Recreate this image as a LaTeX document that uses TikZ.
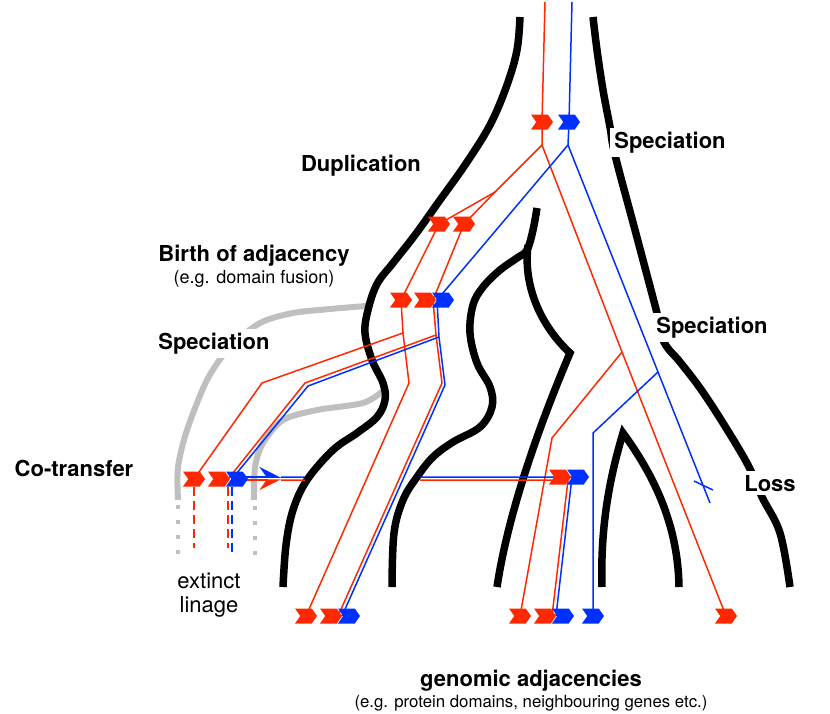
\documentclass[tikz,border=0pt]{standalone}
\usepackage{fontspec}
\setmainfont{TeX Gyre Heros}
\usepackage{xcolor}
\usetikzlibrary{positioning}
\usetikzlibrary{arrows.meta}
\usetikzlibrary{shapes.symbols}
\definecolor{adjred}{RGB}{255,40,0}
\definecolor{adjblue}{RGB}{0,48,255}
\tikzset{chev/.style={signal, signal to=east, signal from=west, signal pointer angle=110,
minimum width=22pt, minimum height=15pt, inner sep=0pt, outer sep=0pt, draw=none},
redchev/.style={chev, fill=adjred}, bluechev/.style={chev, fill=adjblue},
event/.style={font=\fontsize{22}{26}\selectfont\bfseries, fill=white, inner sep=4pt, anchor=base}}

\begin{document}
\begin{tikzpicture}[x=1pt, y=-1pt, wall/.style={line width=7.5pt}, ghost/.style={line width=6pt, black!25},
	redline/.style={adjred, line width=1.5pt}, blueline/.style={adjblue, line width=1.5pt},
	lost/.style={dash pattern=on 9pt off 5pt}, dots/.style={ghost, line width=4pt, dash pattern=on 4pt off 11pt},
	note/.style={font=\fontsize{18}{22}\selectfont, inner sep=0pt, anchor=base}]
\useasboundingbox (0,0) rectangle (830,713);

\draw[ghost] plot[smooth] coordinates {(366,306) (330,309) (293,313) (260,323) (230,347) (207,380) (187,430) (178,467) (178,500)};
\draw[ghost] plot[smooth] coordinates {(383,391) (363,403) (317,410) (283,420) (263,443) (255,467) (254,500)};
\coordinate (g1a) at (178,505); \coordinate (g1b) at (178,556);
\coordinate (g2a) at (255,506); \coordinate (g2b) at (255,557);
\draw[dots] (g1a) -- (g1b);
\draw[dots] (g2a) -- (g2b);

\draw[wall] plot[smooth, tension=0.6] coordinates {(520,17) (517,50) (507,85) (490,125) (465,165) (440,200) (415,235) (393,263) (377,284) (368,310) (365,333) (372,360) (383,383) (385,400) (377,417) (357,433) (333,450) (307,480) (293,510) (286,545) (283,587)};
\draw[wall] plot[smooth, tension=0.6] coordinates {(537,208) (533,230) (527,250) (517,258) (500,270) (483,287) (473,305) (470,333) (477,363) (490,387) (492,407) (480,427) (453,442) (433,457) (417,477) (403,500) (394,533) (392,587)};
\draw[wall] (528,245) .. controls (523,285) and (540,325) .. (570,353) .. controls (550,400) and (510,500) .. (497,587);
\draw[wall] (602,587) .. controls (600,520) and (612,470) .. (623,433) .. controls (650,470) and (678,520) .. (679,587);
\draw[wall] plot[smooth, tension=0.6] coordinates {(593,17) (597,50) (603,90) (610,127) (615,155) (635,230) (657,313) (664,342) (680,362) (700,388) (723,423) (748,465) (762,497) (780,533) (790,587)};

\coordinate (rin) at (545,2); \coordinate (bin) at (572,2);
\coordinate (rt) at (542,122); \coordinate (bt) at (569,122);
\coordinate (rs) at (542,145); \coordinate (bs) at (568,145);
\coordinate (rk) at (495,192);
\coordinate (ru1) at (439,224); \coordinate (ru2) at (464,224);
\coordinate (rb1) at (401,300); \coordinate (rb2) at (425,300); \coordinate (bb) at (443,300);
\coordinate (jr) at (433,300); \coordinate (jb) at (437,300);
\coordinate (p1) at (403,333); \coordinate (q1) at (409,383); \coordinate (s1) at (262,383);
\coordinate (p2) at (436,335); \coordinate (q2) at (442,383); \coordinate (s2) at (305,383);
\coordinate (p3) at (439,337); \coordinate (q3) at (445,385); \coordinate (s3) at (308,386);
\coordinate (rc1) at (194,479); \coordinate (rc2) at (219,479); \coordinate (bc) at (237,479);
\coordinate (kr) at (228,479); \coordinate (kb) at (232,479);
\coordinate (re1) at (306,616); \coordinate (re2) at (331,616); \coordinate (be) at (349,616);
\coordinate (er) at (338,616); \coordinate (eb) at (342,616);
\coordinate (rd) at (560,477); \coordinate (bd) at (578,477);
\coordinate (dr) at (568,480); \coordinate (db) at (572,477);
\coordinate (rf1) at (520,616); \coordinate (rf2) at (545,616); \coordinate (bf) at (563,616);
\coordinate (fr) at (552,616); \coordinate (fb) at (556,616);
\coordinate (bg) at (593,616); \coordinate (rh) at (726,616);
\coordinate (rm) at (622,352); \coordinate (rn) at (552,438);
\coordinate (bm) at (658,372); \coordinate (bn) at (593,433);
\coordinate (bx) at (710,503); \coordinate (xa) at (694,481); \coordinate (xb) at (713,490);
\coordinate (tb0) at (246,477); \coordinate (tb) at (281,477); \coordinate (tb1) at (305,477); \coordinate (tb2) at (420,477);
\coordinate (tr0) at (246,480); \coordinate (tr) at (281,480); \coordinate (tr1) at (305,480); \coordinate (tr2) at (420,480);
\coordinate (x1a) at (194,487); \coordinate (x1b) at (194,548);
\coordinate (x2a) at (228,487); \coordinate (x2b) at (228,548);
\coordinate (x3a) at (232,487); \coordinate (x3b) at (232,552);

\draw[redline] (rin) -- (rt) -- (rs) -- (rk) -- (ru2) -- (jr) -- (p2) -- (q2) -- (er);
\draw[redline] (rk) -- (ru1) -- (rb1) -- (p1) -- (q1) -- (re1);
\draw[redline] (p1) -- (s1) -- (rc1);
\draw[redline] (p2) -- (s2) -- (kr);
\draw[redline] (rs) -- (rm) -- (rh);
\draw[redline] (rm) -- (rn) -- (rf1);
\draw[blueline] (bin) -- (bt) -- (bs) -- (jb) -- (p3) -- (q3) -- (eb);
\draw[blueline] (p3) -- (s3) -- (kb);
\draw[blueline] (bs) -- (bm) -- (bx);
\draw[blueline] (bm) -- (bn) -- (bg);
\draw[blueline] (xa) -- (xb);
\draw[redline, lost] (x1a) -- (x1b);
\draw[redline, lost] (x2a) -- (x2b);
\draw[blueline, lost] (x3a) -- (x3b);

\draw[blueline, -{Stealth[harpoon, length=20pt, width=20pt, inset=7pt]}] (tb0) -- (tb);
\draw[redline, -{Stealth[harpoon, swap, length=20pt, width=20pt, inset=7pt]}] (tr0) -- (tr);
\draw[blueline] (tb) -- (tb1) (tb2) -- (db) -- (fb);
\draw[redline] (tr) -- (tr1) (tr2) -- (dr) -- (fr);

\node[bluechev] (Bt) at (bt) {}; \node[bluechev] (Bb) at (bb) {}; \node[bluechev] (Bc) at (bc) {};
\node[bluechev] (Bd) at (bd) {}; \node[bluechev] (Be) at (be) {}; \node[bluechev] (Bf) at (bf) {};
\node[bluechev] (Bg) at (bg) {};
\node[redchev] (Rt) at (rt) {}; \node[redchev] (Ru1) at (ru1) {}; \node[redchev] (Ru2) at (ru2) {};
\node[redchev] (Rb1) at (rb1) {}; \node[redchev] (Rb2) at (rb2) {};
\node[redchev] (Rc1) at (rc1) {}; \node[redchev] (Rc2) at (rc2) {}; \node[redchev] (Rd) at (rd) {};
\node[redchev] (Re1) at (re1) {}; \node[redchev] (Re2) at (re2) {};
\node[redchev] (Rf1) at (rf1) {}; \node[redchev] (Rf2) at (rf2) {}; \node[redchev] (Rh) at (rh) {};

\node[event] (dup) at (361,171) {Duplication};
\node[event] (birth) at (254,261) {Birth of adjacency};
\node[note, below=0pt of birth] (birthnote) {(e.g. domain fusion)};
\node[event] (spec1) at (214,349) {Speciation};
\node[event] (cotr) at (74,476) {Co-transfer};
\node[event] (spec2) at (670,148) {Speciation};
\node[event] (spec3) at (712,333) {Speciation};
\node[event] (loss) at (770,491) {Loss};
\node[note, font=\fontsize{22}{24}\selectfont] (ext) at (209,588) {extinct};
\node[note, font=\fontsize{22}{24}\selectfont, below=8pt of ext] (ext2) {linage};
\node[event, fill=none] (genome) at (531,686) {genomic adjacencies};
\node[note, font=\fontsize{16.8}{20}\selectfont, below=0pt of genome] (gnote) {(e.g. protein domains, neighbouring genes etc.)};
\end{tikzpicture}
\end{document}
